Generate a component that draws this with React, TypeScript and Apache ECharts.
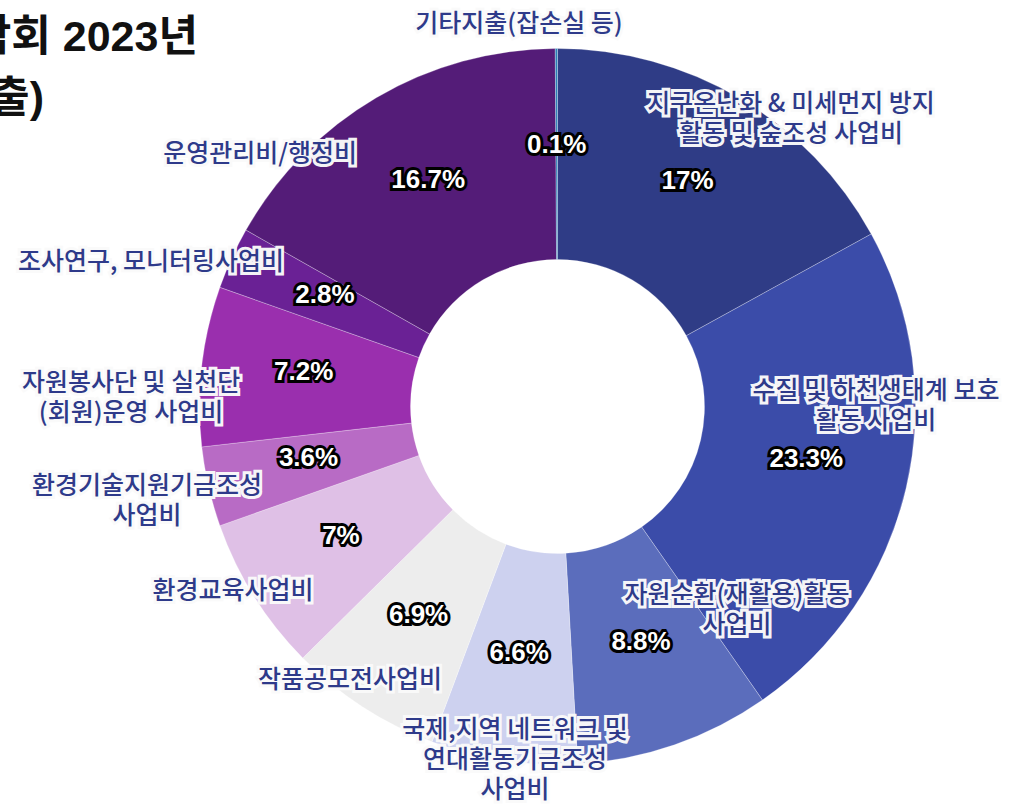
import React, { useEffect, useRef } from 'react';
import * as echarts from 'echarts';

const categories: string[] = [
  '지구온난화 & 미세먼지 방지\n활동 및 숲조성 사업비',
  '수질 및 하천생태계 보호\n활동 사업비',
  '자원순환(재활용)활동\n사업비',
  '국제,지역 네트워크 및\n연대활동기금조성\n사업비',
  '작품공모전사업비',
  '환경교육사업비',
  '환경기술지원기금조성\n사업비',
  '자원봉사단 및 실천단\n(회원)운영 사업비',
  '조사연구, 모니터링사업비',
  '운영관리비/행정비',
  '기타지출(잡손실 등)',
];

const shares: number[] = [17, 23.3, 8.8, 6.6, 6.9, 7, 3.6, 7.2, 2.8, 16.7, 0.1];

const sliceColors: string[] = [
  '#2f3c86',
  '#3b4ca9',
  '#5b6dbc',
  '#cdd1ef',
  '#ededed',
  '#dfc0e6',
  '#b86bc5',
  '#9a2fae',
  '#6a2195',
  '#541c78',
  '#2a7fb5',
];

const titleLines: string[] = ['환경단체연합회 2023년', '사업비 결산(지출)'];

// label anchor points (pixels) for the category names
const nameLabelAnchors: [number, number][] = [
  [791, 116],
  [876, 403],
  [737, 607],
  [515, 757],
  [350, 677],
  [233, 588],
  [147, 498],
  [131, 395],
  [151, 259],
  [260, 151],
  [519, 21],
];

export default function App() {
  const ref = useRef<HTMLDivElement>(null);

  useEffect(() => {
    document.body.style.margin = '0';
    if (!ref.current) return;
    const chart = echarts.init(ref.current, undefined, { renderer: 'svg' });
    const data = categories.map((name, i) => ({
      name,
      value: shares[i],
      itemStyle: { color: sliceColors[i] },
    }));
    const center = [557.5, 406.5];
    const radius = [147, 358];
    chart.setOption({
      animation: false,
      backgroundColor: '#ffffff',
      graphic: [
        {
          type: 'text',
          x: 198,
          y: 36,
          style: {
            text: titleLines[0],
            align: 'right',
            verticalAlign: 'middle',
            font: 'bold 43px "Liberation Sans", "Noto Sans CJK KR", sans-serif',
            fill: '#111111',
          },
        },
        {
          type: 'text',
          x: 44,
          y: 97,
          style: {
            text: titleLines[1],
            align: 'right',
            verticalAlign: 'middle',
            font: 'bold 43px "Liberation Sans", "Noto Sans CJK KR", sans-serif',
            fill: '#111111',
          },
        },
      ],
      series: [
        {
          type: 'pie',
          center,
          radius,
          startAngle: 90,
          clockwise: true,
          avoidLabelOverlap: false,
          itemStyle: { borderColor: 'rgba(255,255,255,0.45)', borderWidth: 0.6 },
          label: {
            show: true,
            position: 'inside',
            formatter: (p: any) => `${p.value}%`,
            fontFamily: '"Liberation Sans Narrow", "Liberation Sans", sans-serif',
            fontWeight: 'bold',
            fontSize: 26,
            color: '#ffffff',
            textBorderColor: '#000000',
            textBorderWidth: 6,
          },
          labelLayout: () => ({ dy: -7 }),
          labelLine: { show: false },
          emphasis: { disabled: true },
          data,
        },
        {
          type: 'pie',
          center,
          radius,
          startAngle: 90,
          clockwise: true,
          silent: true,
          z: 5,
          avoidLabelOverlap: false,
          itemStyle: { color: 'rgba(0,0,0,0)', borderWidth: 0 },
          label: {
            show: true,
            position: 'inside',
            formatter: '{b}',
            fontFamily: '"Noto Sans CJK KR", sans-serif',
            fontWeight: 500,
            fontSize: 25,
            lineHeight: 30,
            align: 'center',
            color: '#2e3a8a',
            textBorderColor: 'rgba(250,250,250,0.97)',
            textBorderWidth: 6,
          },
          labelLayout: (params: any) => {
            const a = nameLabelAnchors[params.dataIndex];
            return { x: a[0], y: a[1], align: 'center', verticalAlign: 'middle' };
          },
          labelLine: { show: false },
          emphasis: { disabled: true },
          data: categories.map((name, i) => ({ name, value: shares[i] })),
        },
      ],
    });
    return () => chart.dispose();
  }, []);

  return <div ref={ref} style={{ width: 1016, height: 805 }} />;
}
